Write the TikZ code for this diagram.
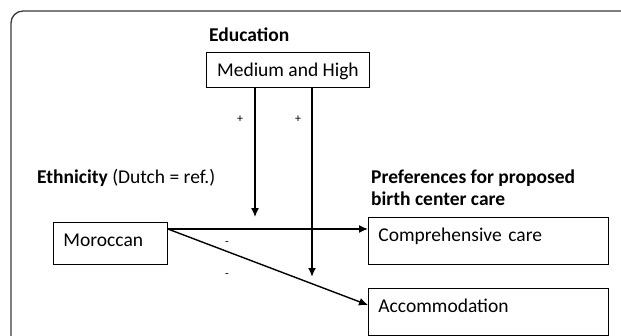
\documentclass[tikz,border=0pt]{standalone}
\usepackage{fontspec}
\setmainfont{Carlito}
\usetikzlibrary{arrows.meta, positioning}
\definecolor{framegray}{RGB}{58,58,58}

\begin{document}
\begin{tikzpicture}[x=1pt, y=-1pt,
    box/.style={draw, line width=0.9pt, anchor=north west, inner ysep=6pt, text height=18pt, font=\fontsize{19.5}{22}\selectfont},
    lbl/.style={anchor=base west, inner sep=0pt, font=\fontsize{19.5}{22}\selectfont},
    sign/.style={inner sep=0pt, font=\fontsize{12}{14}\selectfont},
    arr/.style={-{Latex[length=9pt, width=8pt]}, line width=1.4pt}
]
    \useasboundingbox (0,0) rectangle (621,335);

    % Outer frame (cut off at right and bottom)
    \draw[framegray, line width=1.3pt, rounded corners=12pt] (11,11) rectangle (660,380);

    % Moderator: education
    \node[lbl] (edu) at (209,41) {\textbf{Education}};
    \node[box, minimum width=163pt, inner xsep=0pt, text depth=5pt] (medium) at (206,52) {Medium and High};

    % Independent variable
    \node[lbl] (eth) at (37,183) {\textbf{Ethnicity} (Dutch = ref.)};
    \node[box, text width=94pt, inner xsep=10pt, text depth=12pt, align=left] (moroccan) at (53,222) {Moroccan};

    % Outcomes
    \node[lbl] (pref1) at (371,183) {\textbf{Preferences for proposed}};
    \node[lbl] (pref2) at (371,205) {\textbf{birth center care}};
    \node[box, text width=220pt, inner xsep=10pt, text depth=17pt, align=left] (comp) at (368,217) {Comprehensive care};
    \node[box, text width=220pt, inner xsep=10pt, text depth=17pt, align=left] (acco) at (368,288) {Accommodation};

    % Arrows
    \coordinate (src) at ([yshift=-7pt]moroccan.north east);
    \coordinate (tip1) at (255,217);
    \coordinate (tip2) at (312,277);
    \draw[arr] (tip1 |- medium.south) -- (tip1);
    \draw[arr, line width=2.1pt] (tip2 |- medium.south) -- (tip2);
    \draw[arr] (src) -- (src -| comp.west);
    \draw[arr] (src) -- ([yshift=-17pt]acco.north west);

    % Signs
    \node[sign] (plus1) at (240,119) {+};
    \node[sign] (plus2) at (298,119) {+};
    \node[sign] (minus1) at (227,244) {-};
    \node[sign] (minus2) at (227,276) {-};
\end{tikzpicture}
\end{document}
